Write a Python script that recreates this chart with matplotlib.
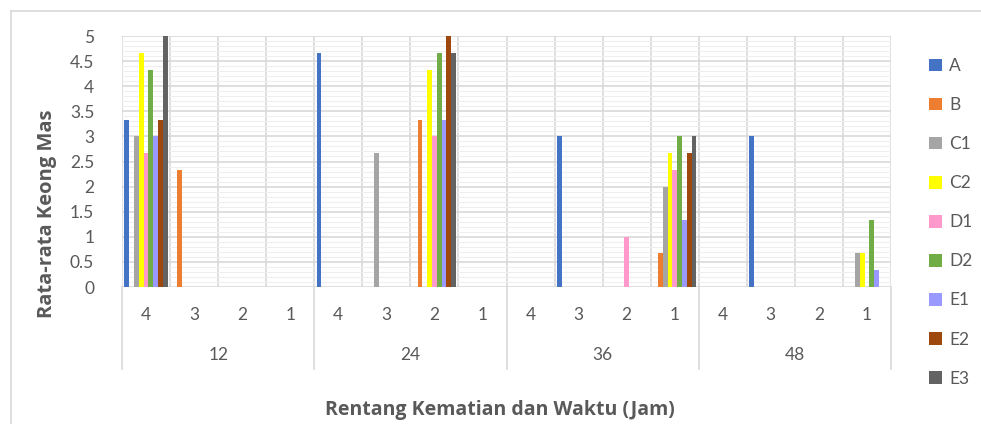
import numpy as np
import matplotlib.pyplot as plt
from matplotlib.lines import Line2D
from matplotlib.ticker import MultipleLocator, FuncFormatter

plt.rcParams['font.family'] = ['Lato', 'DejaVu Sans']

# Category axis: time groups, each split into death ranges 4..1
groups = ['12', '24', '36', '48']
subcats = ['4', '3', '2', '1']

series = ['A', 'B', 'C1', 'C2', 'D1', 'D2', 'E1', 'E2', 'E3']
colors = ['#4472C4', '#ED7D31', '#A5A5A5', '#FFFF00', '#FF99CC',
          '#70AD47', '#9999FF', '#9E480E', '#636363']

# values per series, in order 12/4, 12/3, 12/2, 12/1, 24/4, ... 48/1
A  = [3.33, 0, 0, 0,   4.67, 0, 0, 0,      0, 3, 0, 0,       0, 3, 0, 0]
B  = [0, 2.33, 0, 0,   0, 0, 3.33, 0,      0, 0, 0, 0.67,    0, 0, 0, 0]
C1 = [3, 0, 0, 0,      0, 2.67, 0, 0,      0, 0, 0, 2,       0, 0, 0, 0.67]
C2 = [4.67, 0, 0, 0,   0, 0, 4.33, 0,      0, 0, 0, 2.67,    0, 0, 0, 0.67]
D1 = [2.67, 0, 0, 0,   0, 0, 3, 0,         0, 0, 1, 2.33,    0, 0, 0, 0]
D2 = [4.33, 0, 0, 0,   0, 0, 4.67, 0,      0, 0, 0, 3,       0, 0, 0, 1.33]
E1 = [3, 0, 0, 0,      0, 0, 3.33, 0,      0, 0, 0, 1.33,    0, 0, 0, 0.33]
E2 = [3.33, 0, 0, 0,   0, 0, 5, 0,         0, 0, 0, 2.67,    0, 0, 0, 0]
E3 = [5, 0, 0, 0,      0, 0, 4.67, 0,      0, 0, 0, 3,       0, 0, 0, 0]
values = [A, B, C1, C2, D1, D2, E1, E2, E3]

text_col = '#595959'
grid_col = '#D9D9D9'

fig = plt.figure(figsize=(9.81, 4.24), dpi=100)
W, H = 981, 424
ax = fig.add_axes([122 / W, 1 - 287 / H, (891 - 122) / W, (287 - 36) / H])

n_cat = len(groups) * len(subcats)
x = np.arange(n_cat)
bw = 0.1
start = (1 - bw * len(series)) / 2
for i, (name, vals, c) in enumerate(zip(series, values, colors)):
    ax.bar(x + start + i * bw, vals, width=bw, align='edge', color=c,
           label=name, zorder=3)

ax.set_xlim(0, n_cat)
ax.set_ylim(0, 5)
ax.yaxis.set_major_locator(MultipleLocator(0.5))
ax.yaxis.set_minor_locator(MultipleLocator(0.1))
ax.yaxis.set_major_formatter(FuncFormatter(lambda v, p: f'{v:g}'))
ax.set_xticks(np.arange(n_cat + 1))
ax.set_xticklabels([])
ax.tick_params(axis='both', length=0, colors=text_col, labelsize=12.5)
ax.tick_params(axis='y', which='minor', length=0)
ax.tick_params(axis='y', pad=20)
ax.grid(axis='y', which='major', color=grid_col, lw=1.2, zorder=0)
ax.grid(axis='y', which='minor', color='#EFEFEF', lw=0.8, zorder=0)
ax.grid(axis='x', which='major', color=grid_col, lw=1.2, zorder=0)
for s in ax.spines.values():
    s.set_visible(False)
ax.set_axisbelow(True)

# two-level category labels under the plot
tr = ax.get_xaxis_transform()
ah = 287 - 36
for g, gname in enumerate(groups):
    for s, sname in enumerate(subcats):
        ax.text(g * 4 + s + 0.5, -(315 - 287) / ah, sname, transform=tr,
                ha='center', va='center', fontsize=12.5, color=text_col)
    ax.text(g * 4 + 2, -(355 - 287) / ah, gname, transform=tr,
            ha='center', va='center', fontsize=12.5, color=text_col)
for b in range(0, n_cat + 1, 4):
    ax.add_line(Line2D([b, b], [0, -(369 - 287) / ah], transform=tr,
                       color=grid_col, lw=1.2, clip_on=False))

title_font = ['Open Sans', 'DejaVu Sans']
fig.text(47 / W, 1 - 214 / H, 'Rata-rata Keong Mas', rotation=90,
         ha='center', va='center', fontsize=14.5, fontweight='bold',
         color=text_col, family=title_font)
fig.text(500 / W, 1 - 410 / H, 'Rentang Kematian dan Waktu (Jam)',
         ha='center', va='center', fontsize=14, fontweight='bold',
         color=text_col, family=title_font)

leg = fig.legend(loc='upper left', bbox_to_anchor=(922 / W, 1 - 51 / H),
                 frameon=False, fontsize=12.5, handlelength=0.75, handleheight=0.75,
                 handletextpad=0.4, labelspacing=1.33, borderaxespad=0)
for t in leg.get_texts():
    t.set_color(text_col)

# outer chart frame
fig.add_artist(Line2D([11 / W, 1], [1 - 11 / H, 1 - 11 / H], color=grid_col, lw=1.2))
fig.add_artist(Line2D([11 / W, 11 / W], [0, 1 - 11 / H], color=grid_col, lw=1.2))

fig.savefig('out.png', dpi=100)
